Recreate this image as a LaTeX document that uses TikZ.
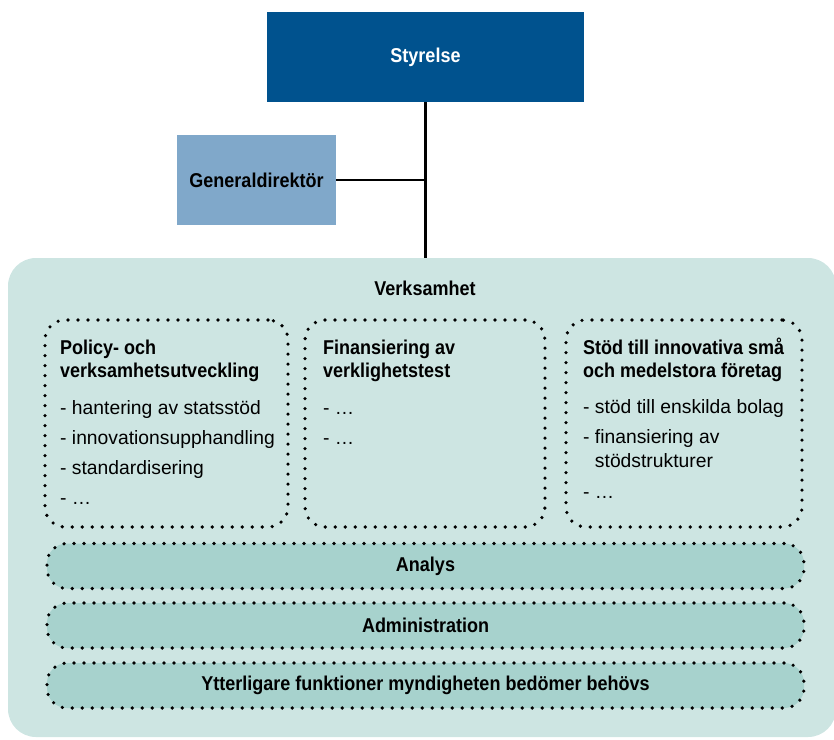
\documentclass[tikz,border=0pt]{standalone}
\usepackage{fontspec}
\setmainfont{Liberation Sans}[BoldFeatures={FakeStretch=0.9}]
\usepackage{tikz}

\definecolor{styrelseblue}{HTML}{00528E}
\definecolor{gdblue}{HTML}{80A8CA}
\definecolor{verkbg}{HTML}{CDE5E2}
\definecolor{bandbg}{HTML}{A7D2CD}

\tikzset{
  ledning/.style={fill=styrelseblue, text=white, inner sep=0pt,
    font=\bfseries\fontsize{20}{24}\selectfont, minimum width=317pt, minimum height=90pt},
  gdbox/.style={fill=gdblue, inner sep=0pt,
    font=\bfseries\fontsize{20}{24}\selectfont, minimum width=159pt, minimum height=90pt},
  verkbox/.style={fill=verkbg, rounded corners=28pt, inner sep=0pt,
    minimum width=828pt, minimum height=479pt},
  omrade/.style={draw=black, line width=3.6pt, dash pattern=on 0pt off 10pt,
    line cap=round, rounded corners=20pt, inner sep=0pt, minimum height=207pt},
  band/.style={omrade, fill=bandbg, minimum width=757pt, minimum height=45pt,
    font=\bfseries\fontsize{20}{24}\selectfont},
  rubrik/.style={anchor=base west, inner sep=0pt, font=\bfseries\fontsize{20}{23}\selectfont},
  punkt/.style={anchor=base west, inner sep=0pt, font=\fontsize{19.3}{22}\selectfont},
  linje/.style={line width=2.2pt}
}

\begin{document}
\begin{tikzpicture}[x=1pt,y=-1pt]
  \useasboundingbox (0,0) rectangle (834,739);

  % ledning
  \node[verkbox] (verk) at (422,497.5) {};
  \node[ledning] (styrelse) at (425.5,57) {Styrelse};
  \node[gdbox] (gd) at (256.5,180) {Generaldirektör};
  \draw[linje] (styrelse.south) -- (styrelse.south |- verk.north);
  \draw[linje] (gd.east) -- (gd.east -| styrelse.south);

  \node[anchor=base, inner sep=0pt, font=\bfseries\fontsize{20}{24}\selectfont] (verkrubrik) at (425,295) {Verksamhet};

  % verksamhetsomraden
  \node[omrade, minimum width=243pt] (omr1) at (166.5,423.5) {};
  \node[omrade, minimum width=240pt] (omr2) at (425,423.5) {};
  \node[omrade, minimum width=236pt] (omr3) at (684,423.5) {};

  \foreach \y/\t [count=\i] in {354/Policy- och, 377/verksamhetsutveckling}
    \node[rubrik] (rub1\i) at (60,\y) {\t};
  \foreach \y/\t [count=\i] in {414/- hantering av statsstöd, 444/- innovationsupphandling,
                                474/- standardisering, 504/- …}
    \node[punkt] (pkt1\i) at (60,\y) {\t};

  \foreach \y/\t [count=\i] in {354/Finansiering av, 377/verklighetstest}
    \node[rubrik] (rub2\i) at (323,\y) {\t};
  \foreach \y/\t [count=\i] in {414/- …, 444/- …}
    \node[punkt] (pkt2\i) at (323,\y) {\t};

  \foreach \y/\t [count=\i] in {354/Stöd till innovativa små, 377/och medelstora företag}
    \node[rubrik] (rub3\i) at (583,\y) {\t};
  \foreach \y/\t [count=\i] in {413/- stöd till enskilda bolag, 443/- finansiering av,
                                467/\phantom{- }stödstrukturer, 498/- …}
    \node[punkt] (pkt3\i) at (583,\y) {\t};

  % gemensamma funktioner
  \node[band] (analys) at (425.5,566) {Analys};
  \node[band] (admin) at (425.5,625.5) {Administration};
  \node[band] (ovrigt) at (425.5,685.5) {Ytterligare funktioner myndigheten bedömer behövs};
\end{tikzpicture}
\end{document}
